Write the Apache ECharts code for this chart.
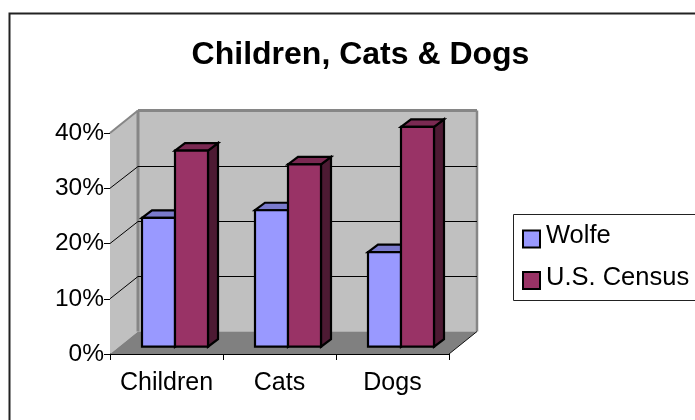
<!DOCTYPE html>
<html>
<head>
<meta charset="utf-8">
<style>html,body{margin:0;padding:0;background:#fff}#c{width:695px;height:420px}</style>
<script src="https://cdn.jsdelivr.net/npm/echarts@6/dist/echarts.min.js"></script>
</head>
<body>
<div id="c"></div>
<script>
var categories = ['Children', 'Cats', 'Dogs'];
var wolfe = [23.3, 24.7, 17.1];
var census = [35.5, 33, 39.8];
var gridTicks = [10, 20, 30];

var FONT = '"Liberation Sans", Arial, sans-serif';
var WALL_DX = 28, WALL_DY = 22.5;      // depth of the chart floor
var FRONT_DX = 8.5, FRONT_DY = 7.3;    // offset of the bars' front plane
var BAR_DX = 10, BAR_DY = 7.5;         // depth of each bar
var BAR_W = 33;

function poly(points, fill, stroke, lw) {
  return { type: 'polygon', shape: { points: points },
    style: { fill: fill, stroke: stroke || null, lineWidth: lw || 0, lineJoin: 'miter' } };
}
function line(x1, y1, x2, y2, stroke, lw) {
  return { type: 'line', shape: { x1: x1, y1: y1, x2: x2, y2: y2 },
    style: { stroke: stroke, lineWidth: lw, fill: null } };
}

function wallItem(params, api) {
  var g = params.coordSys;
  var l = g.x, r = g.x + g.width, t = g.y, b = g.y + g.height;
  var bl = l + WALL_DX, br = r + WALL_DX, bt = t - WALL_DY, bb = b - WALL_DY;
  var gray = '#868686';
  return { type: 'group', children: [
    poly([[bl, bt], [br, bt], [br, bb], [bl, bb]], '#c0c0c0'),
    poly([[l, t], [bl, bt], [bl, bb], [l, b]], '#c0c0c0'),
    poly([[l, b], [bl, bb], [br, bb], [r, b]], '#808080'),
    line(bl, bt, br, bt, gray, 3),
    line(br, bt, br, bb, gray, 2.5),
    line(bl, bt, bl, bb, gray, 3),
    line(l, t, bl, bt, gray, 2),
    line(r, b, br, bb, '#111', 1)
  ] };
}

function gridItem(params, api) {
  var g = params.coordSys;
  var y = api.coord([0, api.value(0)])[1];
  var l = g.x, r = g.x + g.width;
  var by = Math.round(y - WALL_DY) + 0.5;
  return { type: 'polyline', shape: { points: [[l, y], [l + WALL_DX, by], [r + WALL_DX, by]] },
    style: { stroke: '#000', lineWidth: 1, fill: null } };
}

function barItem(side, front, top, dark) {
  return function (params, api) {
    var c = api.coord([api.value(0), api.value(1)]);
    var base = api.coord([api.value(0), 0])[1] - FRONT_DY;
    var cx = c[0] + FRONT_DX;
    var x0 = side < 0 ? cx - BAR_W : cx;
    var x1 = x0 + BAR_W;
    var y0 = c[1] - FRONT_DY;
    var s = '#000', w = 2.2;
    return { type: 'group', children: [
      poly([[x1, y0], [x1 + BAR_DX, y0 - BAR_DY], [x1 + BAR_DX, base - BAR_DY], [x1, base]], dark, s, w),
      poly([[x0, y0], [x0 + BAR_DX, y0 - BAR_DY], [x1 + BAR_DX, y0 - BAR_DY], [x1, y0]], top, s, w),
      poly([[x0, y0], [x1, y0], [x1, base], [x0, base]], front, s, w)
    ] };
  };
}

var chart = echarts.init(document.getElementById('c'), null, { renderer: 'canvas' });
chart.setOption({
  animation: false,
  backgroundColor: '#fff',
  textStyle: { fontFamily: FONT },
  title: {
    text: 'Children, Cats & Dogs', left: 355.5, top: 34, textAlign: 'center',
    textStyle: { fontFamily: FONT, fontWeight: 'bold', fontSize: 32, color: '#000' }
  },
  legend: {
    left: 522, top: 223, orient: 'vertical', itemWidth: 17, itemHeight: 17, itemGap: 9.5, padding: 0,
    selectedMode: false,
    formatter: '{t|{name}}',
    data: [
      { name: 'Wolfe', icon: 'rect', itemStyle: { color: '#9999ff', borderColor: '#000', borderWidth: 2 } },
      { name: 'U.S. Census', icon: 'rect', itemStyle: { color: '#993366', borderColor: '#000', borderWidth: 2 } }
    ],
    textStyle: {
      fontFamily: FONT, fontSize: 25.5, color: '#000',
      rich: { t: { fontFamily: FONT, fontSize: 25.5, color: '#000', lineHeight: 28, padding: [0, 0, 6, 1] } }
    }
  },
  grid: { left: 110, top: 133, width: 339, height: 221 },
  xAxis: {
    type: 'category', data: categories,
    axisLine: { lineStyle: { color: '#000', width: 1 } },
    axisTick: { show: true, alignWithLabel: false, interval: 0, length: 6, lineStyle: { color: '#000' } },
    axisLabel: { fontFamily: FONT, fontSize: 25, color: '#000', margin: 17, interval: 0 },
    splitLine: { show: false }
  },
  yAxis: {
    type: 'value', min: 0, max: 40, interval: 10,
    axisLine: { show: true, lineStyle: { color: '#000', width: 1 } },
    axisTick: { show: true, length: 6, lineStyle: { color: '#000' } },
    axisLabel: { fontFamily: FONT, fontSize: 24.5, color: '#000', margin: 6, padding: [2, 0, 0, 0], formatter: '{value}%' },
    splitLine: { show: false }
  },
  graphic: [
    { type: 'rect', z: -1, shape: { x: 9.5, y: 13.5, width: 720, height: 430 }, style: { fill: null, stroke: '#222', lineWidth: 2 } },
    { type: 'rect', z: -1, shape: { x: 513.5, y: 214.5, width: 220, height: 86 }, style: { fill: '#fff', stroke: '#222', lineWidth: 1 } }
  ],
  series: [
    { type: 'custom', name: 'wall', coordinateSystem: 'cartesian2d', clip: false, z: 1, silent: true,
      data: [[0, 0]], renderItem: wallItem },
    { type: 'custom', name: 'grid', coordinateSystem: 'cartesian2d', clip: false, z: 2, silent: true,
      encode: { x: 1, y: 0 },
      data: gridTicks.map(function (t) { return [t, 0]; }), renderItem: gridItem },
    { type: 'custom', name: 'Wolfe', coordinateSystem: 'cartesian2d', clip: false, z: 3,
      itemStyle: { color: '#9999ff' },
      data: wolfe.map(function (v, i) { return [i, v]; }),
      renderItem: barItem(-1, '#9999ff', '#7a7acc', '#4d4d80') },
    { type: 'custom', name: 'U.S. Census', coordinateSystem: 'cartesian2d', clip: false, z: 4,
      itemStyle: { color: '#993366' },
      data: census.map(function (v, i) { return [i, v]; }),
      renderItem: barItem(1, '#993366', '#7a2952', '#4d1a33') }
  ]
});
</script>
</body>
</html>
